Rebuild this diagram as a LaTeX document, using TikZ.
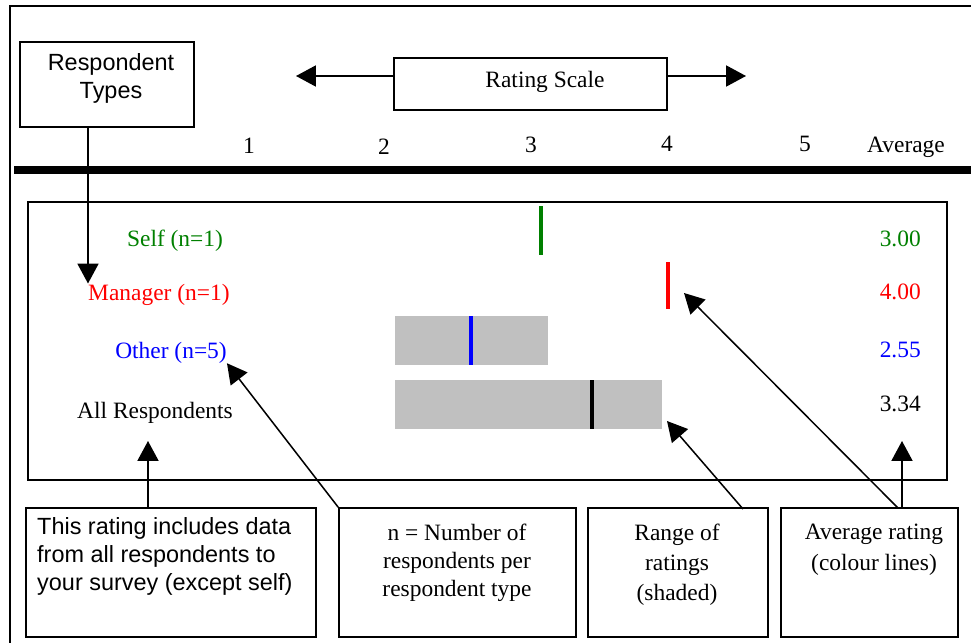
\documentclass[tikz,border=0pt]{standalone}
\usepackage{fontspec}
\setmainfont{Liberation Serif}
\setsansfont{Liberation Sans}
\usetikzlibrary{arrows.meta, calc}
\definecolor{selfgreen}{RGB}{0,128,0}
\definecolor{rangegray}{RGB}{192,192,192}

\begin{document}
\begin{tikzpicture}[x=0.03cm, y=-0.03cm,
    box/.style={draw, line width=1.4pt, inner sep=0},
    lbl/.style={inner sep=0, anchor=base, font=\fontsize{20}{24}\selectfont},
    note/.style={inner sep=0, anchor=north, align=center, font=\fontsize{20}{24}\selectfont},
    arr/.style={-{Triangle[length=17pt, width=18pt]}, line width=1.3pt},
    avgline/.style={line width=3.4pt}]

  \useasboundingbox (0,0) rectangle (971,643);
  \draw[line width=1.4pt] (10,643) -- (10,6) -- (971,6);

  % header: respondent types, rating scale and the axis
  \node[box, minimum width=5.22cm, minimum height=2.55cm] (types) at (107,84.5) {};
  \node[note, font=\sffamily\fontsize{20}{24}\selectfont] (typestext) at (111,53) {Respondent\\Types};

  \node[box, minimum width=8.19cm, minimum height=1.56cm] (scale) at (530.5,84) {};
  \node[lbl] (scaletext) at (545,87) {Rating Scale};
  \coordinate (lefttip) at (296,76);
  \coordinate (righttip) at (746,76);
  \draw[arr] (lefttip -| scale.west) -- (lefttip);
  \draw[arr] (righttip -| scale.east) -- (righttip);

  \node[lbl] (one) at (249,153) {1};
  \node[lbl] (two) at (384,154) {2};
  \node[lbl] (three) at (531,152) {3};
  \node[lbl] (four) at (667,151) {4};
  \node[lbl] (five) at (805,151) {5};
  \node[lbl] (avghead) at (906,152) {Average};

  \draw[line width=6.8pt] (14,170) -- (971,170);

  % ratings panel
  \node[box, minimum width=27.57cm, minimum height=8.34cm] (panel) at (487.5,341) {};

  \node[lbl, selfgreen] (self) at (175,246) {Self (n=1)};
  \node[lbl, red, anchor=base west] (mgr) at (88,300) {Manager (n=1)};
  \node[lbl, blue] (other) at (171,358) {Other (n=5)};
  \node[lbl] (allr) at (155,418) {All Respondents};

  \fill[rangegray] (395,316) rectangle (548,365);
  \fill[rangegray] (395,380) rectangle (662,429);
  \draw[avgline, selfgreen] (541,206) -- (541,255);
  \draw[avgline, red] (668,262) -- (668,309);
  \draw[avgline, blue] (471,316) -- (471,365);
  \draw[avgline] (592,380) -- (592,429);

  \node[lbl, selfgreen, anchor=base east] (selfavg) at (921,246) {3.00};
  \node[lbl, red, anchor=base east] (mgravg) at (921,299) {4.00};
  \node[lbl, blue, anchor=base east] (otheravg) at (921,357) {2.55};
  \node[lbl, anchor=base east] (allavg) at (921,411) {3.34};

  % explanation boxes
  \node[box, minimum width=8.7cm, minimum height=3.87cm] (b1) at (171,572.5) {};
  \node[box, minimum width=7.11cm, minimum height=3.87cm] (b2) at (457.5,572.5) {};
  \node[box, minimum width=5.4cm, minimum height=3.87cm] (b3) at (678,572.5) {};
  \node[box, minimum width=5.31cm, minimum height=3.87cm] (b4) at (869.5,572.5) {};

  \node[note, anchor=north west, align=left, font=\sffamily\fontsize{20}{24.2}\selectfont] (b1text) at (37,517)
    {This rating includes data\\from all respondents to\\your survey (except self)};
  \node[note] (b2text) at (457,524) {n = Number of\\respondents per\\respondent type};
  \node[note, font=\fontsize{20}{25.5}\selectfont] (b3text) at (677,524) {Range of\\ratings\\(shaded)};
  \node[note, font=\fontsize{20}{26.4}\selectfont] (b4text) at (874,524) {Average rating\\(colour lines)};

  % pointers
  \coordinate (alltip) at (148,441);
  \coordinate (rangetip) at (667,421);
  \coordinate (rangefoot) at (743,509);
  \coordinate (redtip) at (684,293);
  \coordinate (avgfoot) at (898,508);
  \coordinate (avgtip) at (902,441);
  \draw[arr] (types.south -| mgr.north west) -- (mgr.north west);
  \draw[arr] (alltip |- b1.north) -- (alltip);
  \draw[arr] (b2.north west) -- (other.south east);
  \draw[arr] (rangefoot) -- (rangetip);
  \draw[arr] (avgfoot) -- (redtip);
  \draw[arr] (avgtip |- b4.north) -- (avgtip);
\end{tikzpicture}
\end{document}
